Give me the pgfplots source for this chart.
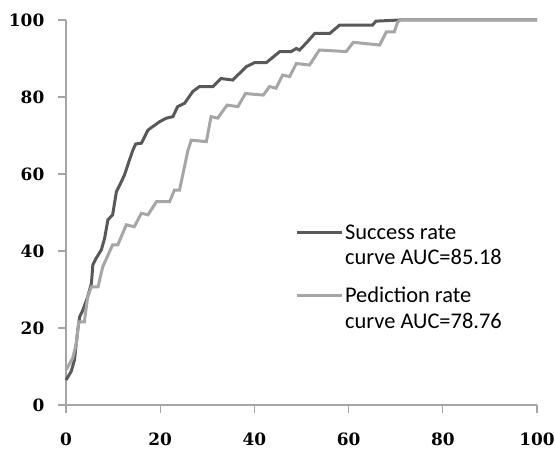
\documentclass[border=0pt]{standalone}
\usepackage{fontspec}
\setmainfont{Carlito}
\newfontfamily\tickfont{DejaVu Serif}
\usepackage{pgfplots}
\pgfplotsset{compat=1.18}
\definecolor{darkc}{RGB}{89,89,89}
\definecolor{lightc}{RGB}{166,166,166}
\definecolor{axc}{RGB}{165,165,165}
\begin{document}
\begin{tikzpicture}
\begin{axis}[
  scale only axis,
  width=471bp, height=385bp,
  xmin=0, xmax=100, ymin=0, ymax=100,
  axis lines*=left,
  axis line style={axc, line width=1.2bp},
  xtick={0,20,...,100}, ytick={0,20,...,100},
  tick align=outside,
  major tick length=8bp,
  tick style={axc, line width=1.2bp},
  /pgf/number format/assume math mode=true,
  ticklabel style={font=\tickfont\bfseries\fontsize{17}{19}\selectfont, text=black, inner sep=0pt},
  yticklabel style={xshift=-13.5bp},
  xticklabel style={yshift=-20bp},
  clip=false,
  legend image code/.code={\draw[#1] (0bp,12.8bp) -- (45bp,12.8bp);},
  legend cell align=left,
  legend style={at={(axis cs:48.6,47.4)}, anchor=north west, draw=none, fill=none,
    font=\fontsize{22.5}{25.7}\selectfont, cells={align=left}, row sep=17bp,
    inner sep=0pt},
]
\addplot[darkc, line width=3bp] coordinates {
(0,6.5) (1.1,8.7) (1.8,11.7) (2.5,19.5) (2.9,22.9) (3.6,24.7) (4.6,28.1)
(5.4,31.6) (5.7,36.4) (6.4,38.1) (7.5,40.3) (8.2,43.3) (8.9,48.1) (9.9,49.4)
(10.7,55.4) (11.4,57.1) (12.4,59.7) (13.1,62.3) (14.2,66.2) (14.8,67.8) (16,68)
(17.4,71.4) (18.4,72.3) (19.9,73.6) (21.3,74.5) (22.7,74.9) (23.7,77.5) (25.2,78.4)
(26.9,81.4) (28.3,82.7) (31.2,82.7) (32.9,84.8) (35.4,84.4) (38.3,87.9) (40,88.9)
(42.5,88.9) (45.4,91.8) (47.8,91.8) (48.9,92.6) (49.6,92.2) (51.3,94.4) (52.8,96.5)
(56,96.5) (58.1,98.7) (65.1,98.7) (65.8,99.7) (70.8,100) (100,100)
};
\addlegendentry{Success rate\\curve AUC=85.18}
\addplot[lightc, line width=3bp] coordinates {
(0,9.1) (1.4,12.1) (2.2,16) (2.7,21.6) (3.9,21.6) (4.6,28.1) (5.4,30.7) (6.8,30.7)
(7.8,35.9) (9.9,41.6) (11,41.6) (12.8,46.8) (14.5,46.3) (16,49.8) (17.4,49.4)
(19.2,52.8) (22,52.8) (23,55.8) (24.1,55.8) (25.9,66.2) (26.6,68.8) (29.8,68.4)
(30.8,74.9) (32.2,74.5) (34.2,77.9) (36.5,77.5) (38.1,80.9) (41.9,80.5) (43.2,82.7)
(44.6,82.3) (46,85.7) (47.5,85.3) (48.9,88.7) (51.7,88.3) (53.8,92.2) (59.5,91.8)
(61,94.2) (66.6,93.5) (68,96.9) (69.7,96.9) (70.4,99.4) (71,100) (100,100)
};
\addlegendentry{Pediction rate\\curve AUC=78.76}
\end{axis}
\path (-66bp,-45bp) rectangle (489bp,405bp);
\end{tikzpicture}
\end{document}
